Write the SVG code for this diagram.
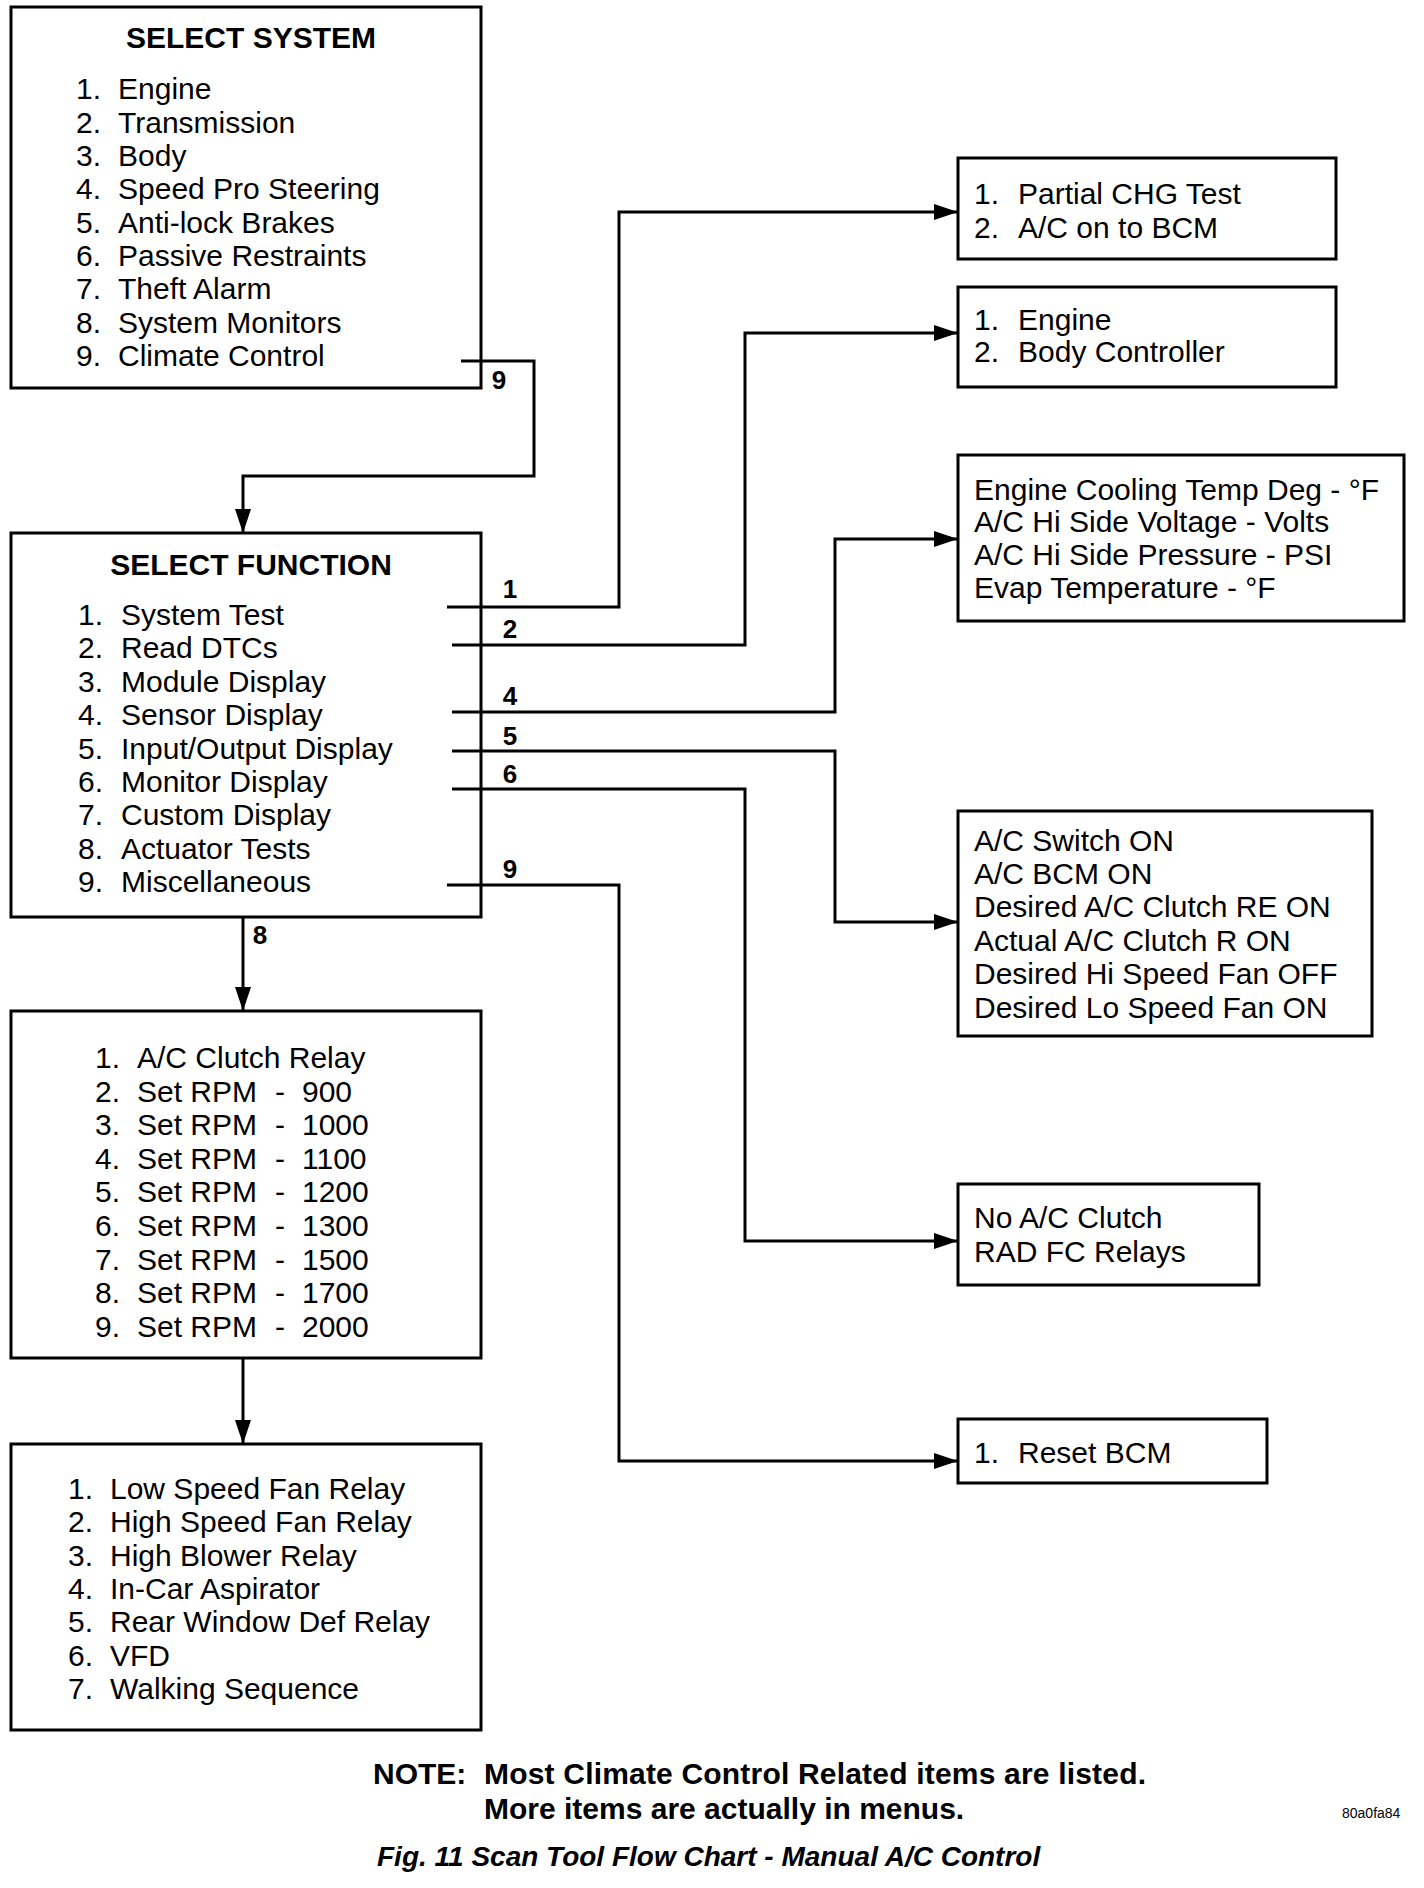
<svg xmlns="http://www.w3.org/2000/svg" width="1424" height="1888" viewBox="0 0 1424 1888">
<style>
.box{fill:#fff;stroke:#000;stroke-width:3}
.t{font-family:"Liberation Sans",Arial,sans-serif;font-size:30px;fill:#000}
.b{font-family:"Liberation Sans",Arial,sans-serif;font-size:30px;font-weight:bold;fill:#000}
.lbl{font-family:"Liberation Sans",Arial,sans-serif;font-size:26px;font-weight:bold;fill:#000;text-anchor:middle}
.c{fill:none;stroke:#000;stroke-width:3}
</style>
<defs>
<marker id="ah" markerUnits="userSpaceOnUse" markerWidth="24" markerHeight="16" refX="24" refY="8" orient="auto">
<path d="M0,0 L24,8 L0,16 z" fill="#000"/>
</marker>
</defs>
<rect width="1424" height="1888" fill="#fff"/>

<g id="select-system">
<rect class="box" x="11" y="7" width="470" height="381"/>
<text class="b" x="251" y="48" text-anchor="middle">SELECT SYSTEM</text>
<text class="t" x="76" y="99">1.</text><text class="t" x="118" y="99">Engine</text>
<text class="t" x="76" y="133">2.</text><text class="t" x="118" y="133">Transmission</text>
<text class="t" x="76" y="166">3.</text><text class="t" x="118" y="166">Body</text>
<text class="t" x="76" y="199">4.</text><text class="t" x="118" y="199">Speed Pro Steering</text>
<text class="t" x="76" y="233">5.</text><text class="t" x="118" y="233">Anti-lock Brakes</text>
<text class="t" x="76" y="266">6.</text><text class="t" x="118" y="266">Passive Restraints</text>
<text class="t" x="76" y="299">7.</text><text class="t" x="118" y="299">Theft Alarm</text>
<text class="t" x="76" y="333">8.</text><text class="t" x="118" y="333">System Monitors</text>
<text class="t" x="76" y="366">9.</text><text class="t" x="118" y="366">Climate Control</text>
</g>

<g id="select-function">
<rect class="box" x="11" y="533" width="470" height="384"/>
<text class="b" x="251" y="575" text-anchor="middle">SELECT FUNCTION</text>
<text class="t" x="78" y="625">1.</text><text class="t" x="121" y="625">System Test</text>
<text class="t" x="78" y="658">2.</text><text class="t" x="121" y="658">Read DTCs</text>
<text class="t" x="78" y="692">3.</text><text class="t" x="121" y="692">Module Display</text>
<text class="t" x="78" y="725">4.</text><text class="t" x="121" y="725">Sensor Display</text>
<text class="t" x="78" y="759">5.</text><text class="t" x="121" y="759">Input/Output Display</text>
<text class="t" x="78" y="792">6.</text><text class="t" x="121" y="792">Monitor Display</text>
<text class="t" x="78" y="825">7.</text><text class="t" x="121" y="825">Custom Display</text>
<text class="t" x="78" y="859">8.</text><text class="t" x="121" y="859">Actuator Tests</text>
<text class="t" x="78" y="892">9.</text><text class="t" x="121" y="892">Miscellaneous</text>
</g>

<g id="actuator-tests">
<rect class="box" x="11" y="1011" width="470" height="347"/>
<text class="t" x="95" y="1068">1.</text><text class="t" x="137" y="1068">A/C Clutch Relay</text>
<text class="t" x="95" y="1102">2.</text><text class="t" x="137" y="1102">Set RPM</text><text class="t" x="280" y="1102" text-anchor="middle">-</text><text class="t" x="302" y="1102">900</text>
<text class="t" x="95" y="1135">3.</text><text class="t" x="137" y="1135">Set RPM</text><text class="t" x="280" y="1135" text-anchor="middle">-</text><text class="t" x="302" y="1135">1000</text>
<text class="t" x="95" y="1169">4.</text><text class="t" x="137" y="1169">Set RPM</text><text class="t" x="280" y="1169" text-anchor="middle">-</text><text class="t" x="302" y="1169">1100</text>
<text class="t" x="95" y="1202">5.</text><text class="t" x="137" y="1202">Set RPM</text><text class="t" x="280" y="1202" text-anchor="middle">-</text><text class="t" x="302" y="1202">1200</text>
<text class="t" x="95" y="1236">6.</text><text class="t" x="137" y="1236">Set RPM</text><text class="t" x="280" y="1236" text-anchor="middle">-</text><text class="t" x="302" y="1236">1300</text>
<text class="t" x="95" y="1270">7.</text><text class="t" x="137" y="1270">Set RPM</text><text class="t" x="280" y="1270" text-anchor="middle">-</text><text class="t" x="302" y="1270">1500</text>
<text class="t" x="95" y="1303">8.</text><text class="t" x="137" y="1303">Set RPM</text><text class="t" x="280" y="1303" text-anchor="middle">-</text><text class="t" x="302" y="1303">1700</text>
<text class="t" x="95" y="1337">9.</text><text class="t" x="137" y="1337">Set RPM</text><text class="t" x="280" y="1337" text-anchor="middle">-</text><text class="t" x="302" y="1337">2000</text>
</g>

<g id="relay-tests">
<rect class="box" x="11" y="1444" width="470" height="286"/>
<text class="t" x="68" y="1499">1.</text><text class="t" x="110" y="1499">Low Speed Fan Relay</text>
<text class="t" x="68" y="1532">2.</text><text class="t" x="110" y="1532">High Speed Fan Relay</text>
<text class="t" x="68" y="1566">3.</text><text class="t" x="110" y="1566">High Blower Relay</text>
<text class="t" x="68" y="1599">4.</text><text class="t" x="110" y="1599">In-Car Aspirator</text>
<text class="t" x="68" y="1632">5.</text><text class="t" x="110" y="1632">Rear Window Def Relay</text>
<text class="t" x="68" y="1666">6.</text><text class="t" x="110" y="1666">VFD</text>
<text class="t" x="68" y="1699">7.</text><text class="t" x="110" y="1699">Walking Sequence</text>
</g>

<g id="system-test">
<rect class="box" x="958" y="158" width="378" height="101"/>
<text class="t" x="974" y="204">1.</text><text class="t" x="1018" y="204">Partial CHG Test</text>
<text class="t" x="974" y="238">2.</text><text class="t" x="1018" y="238">A/C on to BCM</text>
</g>

<g id="read-dtcs">
<rect class="box" x="958" y="287" width="378" height="100"/>
<text class="t" x="974" y="330">1.</text><text class="t" x="1018" y="330">Engine</text>
<text class="t" x="974" y="362">2.</text><text class="t" x="1018" y="362">Body Controller</text>
</g>

<g id="sensor-display">
<rect class="box" x="958" y="455" width="446" height="166"/>
<text class="t" x="974" y="500">Engine Cooling Temp Deg - °F</text>
<text class="t" x="974" y="532">A/C Hi Side Voltage - Volts</text>
<text class="t" x="974" y="565">A/C Hi Side Pressure - PSI</text>
<text class="t" x="974" y="598">Evap Temperature - °F</text>
</g>

<g id="io-display">
<rect class="box" x="958" y="811" width="414" height="225"/>
<text class="t" x="974" y="851">A/C Switch ON</text>
<text class="t" x="974" y="884">A/C BCM ON</text>
<text class="t" x="974" y="917">Desired A/C Clutch RE ON</text>
<text class="t" x="974" y="951">Actual A/C Clutch R ON</text>
<text class="t" x="974" y="984">Desired Hi Speed Fan OFF</text>
<text class="t" x="974" y="1018">Desired Lo Speed Fan ON</text>
</g>

<g id="monitor-display">
<rect class="box" x="958" y="1184" width="301" height="101"/>
<text class="t" x="974" y="1228">No A/C Clutch</text>
<text class="t" x="974" y="1262">RAD FC Relays</text>
</g>

<g id="miscellaneous">
<rect class="box" x="958" y="1419" width="309" height="64"/>
<text class="t" x="974" y="1463">1.</text><text class="t" x="1018" y="1463">Reset BCM</text>
</g>

<g id="connectors">
<path class="c" d="M461 361 H534 V476 H243 V533" marker-end="url(#ah)"/>
<path class="c" d="M447 607 H619 V212 H958" marker-end="url(#ah)"/>
<path class="c" d="M452 645 H745 V333 H958" marker-end="url(#ah)"/>
<path class="c" d="M452 712 H835 V539 H958" marker-end="url(#ah)"/>
<path class="c" d="M452 751 H835 V922 H958" marker-end="url(#ah)"/>
<path class="c" d="M452 789 H745 V1241 H958" marker-end="url(#ah)"/>
<path class="c" d="M447 885 H619 V1461 H958" marker-end="url(#ah)"/>
<path class="c" d="M243 917 V1011" marker-end="url(#ah)"/>
<path class="c" d="M243 1358 V1444" marker-end="url(#ah)"/>
<text class="lbl" x="499" y="389">9</text>
<text class="lbl" x="510" y="598">1</text>
<text class="lbl" x="510" y="638">2</text>
<text class="lbl" x="510" y="705">4</text>
<text class="lbl" x="510" y="745">5</text>
<text class="lbl" x="510" y="783">6</text>
<text class="lbl" x="510" y="878">9</text>
<text class="lbl" x="260" y="944">8</text>
</g>

<g id="notes">
<text class="b" x="373" y="1784">NOTE:</text>
<text class="b" x="484" y="1784" textLength="662">Most Climate Control Related items are listed.</text>
<text class="b" x="484" y="1819">More items are actually in menus.</text>
<text x="1342" y="1818" font-family="Liberation Sans, Arial, sans-serif" font-size="14" fill="#000">80a0fa84</text>
<text x="377" y="1866" font-family="Liberation Sans, Arial, sans-serif" font-size="28" font-weight="bold" font-style="italic" fill="#000">Fig. 11 Scan Tool Flow Chart - Manual A/C Control</text>
</g>
</svg>
